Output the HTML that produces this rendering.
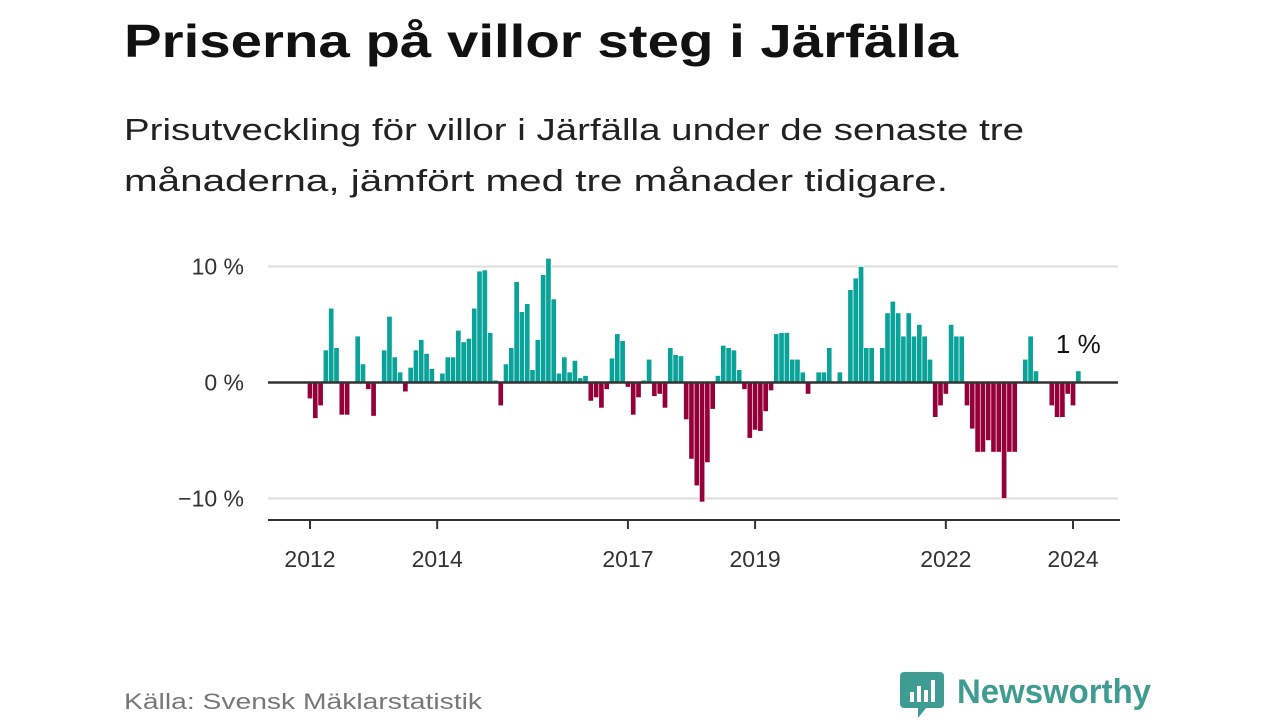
<!DOCTYPE html>
<html><head><meta charset="utf-8"><style>
html,body{margin:0;padding:0;background:#fff;}
svg{display:block;font-family:"Liberation Sans",sans-serif;}
</style></head><body>
<svg id="c" width="1280" height="720" viewBox="0 0 1280 720">
<text x="124" y="57" font-size="46" font-weight="bold" fill="#111" textLength="834" lengthAdjust="spacingAndGlyphs">Priserna på villor steg i Järfälla</text>
<text x="124" y="140" font-size="31" fill="#222" textLength="900" lengthAdjust="spacingAndGlyphs">Prisutveckling för villor i Järfälla under de senaste tre</text>
<text x="124" y="191" font-size="31" fill="#222" textLength="824" lengthAdjust="spacingAndGlyphs">månaderna, jämfört med tre månader tidigare.</text>
<g id="grid"></g>
<g id="bars"></g>
<g id="axes"></g>
<text x="124" y="709" font-size="22" fill="#777" textLength="358" lengthAdjust="spacingAndGlyphs">Källa: Svensk Mäklarstatistik</text>
<g>
<path d="M904 672 h36 a4 4 0 0 1 4 4 v28 a4 4 0 0 1 -4 4 h-14 l-8 10 v-10 h-14 a4 4 0 0 1 -4 -4 v-28 a4 4 0 0 1 4 -4z" fill="#3f9c92"/>
<rect x="910" y="692" width="4" height="10" fill="#fff"/><rect x="917" y="686" width="4" height="16" fill="#fff"/><rect x="924" y="690" width="4" height="12" fill="#fff"/><rect x="931" y="680" width="4" height="22" fill="#fff"/>
<text x="957" y="703" font-size="34" font-weight="bold" fill="#3f9c92" textLength="194" lengthAdjust="spacingAndGlyphs">Newsworthy</text>
</g>
</svg>
<script>
const values = [-1.4,-3.1,-2.0,2.8,6.4,3.0,-2.8,-2.8,0,4.0,1.6,-0.6,-2.9,0,2.8,5.7,2.2,0.9,-0.8,1.3,2.8,3.7,2.5,1.2,
0,0.8,2.2,2.2,4.5,3.5,3.8,6.4,9.6,9.7,4.3,0.2,-2.0,1.6,3.0,8.7,6.1,6.8,1.1,3.7,9.3,10.7,7.2,0.8,
2.2,0.9,1.9,0.4,0.6,-1.6,-1.3,-2.2,-0.6,2.1,4.2,3.6,-0.4,-2.8,-1.3,0.2,2.0,-1.2,-1.0,-2.2,3.0,2.4,2.3,-3.2,
-6.6,-8.9,-10.3,-6.9,-2.3,0.6,3.2,3.0,2.8,1.1,-0.6,-4.8,-4.1,-4.2,-2.5,-0.7,4.2,4.3,4.3,2.0,2.0,0.9,-1.0,0,
0.9,0.9,3.0,0,0.9,0,8.0,9.0,10.0,3.0,3.0,0,3.0,6.0,7.0,6.0,4.0,6.0,4.0,5.0,4.0,2.0,-3.0,-2.0,
-1.0,5.0,4.0,4.0,-2.0,-4.0,-6.0,-6.0,-5.0,-6.0,-6.0,-10.0,-6.0,-6.0,0,2.0,4.0,1.0,0,0,-2.0,-3.0,-3.0,-1.0,
-2.0,1.0];
const startYear = 2012;
const yTicks = [10,0,-10];
const yTickLabels = ["10 %","0 %","−10 %"];
const xTickYears = [2012,2014,2017,2019,2022,2024];
const lastLabel = "1 %";

const NS="http://www.w3.org/2000/svg";
const x0=310, x1=1073, monthsSpan=144;
const xScale = m => x0 + (m)*(x1-x0)/monthsSpan;
const yScale = v => 382.5 - v*11.6;
const bw=(x1-x0)/monthsSpan;
function mk(tag,attrs,parent){const e=document.createElementNS(NS,tag);for(const k in attrs)e.setAttribute(k,attrs[k]);parent.appendChild(e);return e;}
const grid=document.getElementById('grid'),bars=document.getElementById('bars'),axes=document.getElementById('axes');
yTicks.forEach((t,i)=>{
  if(t!==0){const l=mk('line',{x1:268,x2:1118,y1:yScale(t),y2:yScale(t),stroke:'#ddd','stroke-width':2},grid);
  
  }
  const tx=mk('text',{x:244,y:yScale(t)+8,'font-size':23,fill:'#333','text-anchor':'end'},axes);
  tx.textContent=yTickLabels[i];
  
  
});
values.forEach((v,i)=>{
  if(v===0)return;
  const cx=xScale(i);
  const y=v>0?yScale(v):yScale(0);
  const h=Math.abs(yScale(v)-yScale(0));
  const r=mk('rect',{x:cx-bw/2,y:y,width:bw,height:h,fill:v>0?'#0aa39a':'#960039',stroke:'#fff','stroke-width':0.6},bars);
  
  
});
const z=mk('line',{x1:268,x2:1118,y1:yScale(0),y2:yScale(0),stroke:'#333','stroke-width':2.5},axes);


const ax=mk('line',{x1:268,x2:1120,y1:520,y2:520,stroke:'#333','stroke-width':2},axes);


xTickYears.forEach(yr=>{
  const x=xScale((yr-startYear)*12);
  const tk=mk('line',{x1:x,x2:x,y1:520,y2:529,stroke:'#333','stroke-width':2},axes);
  
  
  const t=mk('text',{x:x,y:567,'font-size':23,fill:'#333','text-anchor':'middle'},axes);
  t.textContent=yr;
  
  
});
const li=values.length-1;
const lb=mk('text',{x:xScale(li),y:353,'font-size':26,fill:'#111','text-anchor':'middle'},axes);
lb.textContent=lastLabel;


</script>
</body></html>
